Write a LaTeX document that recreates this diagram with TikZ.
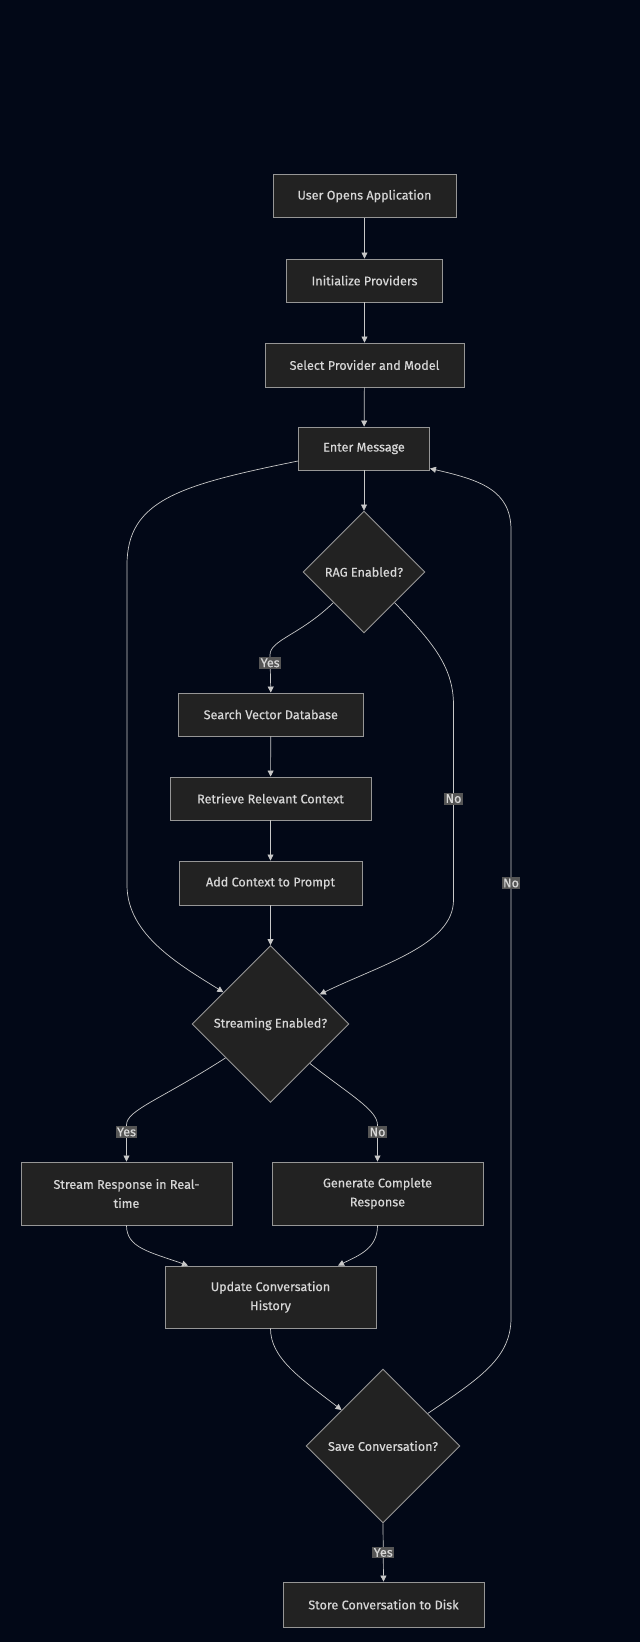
\documentclass[tikz,border=0pt]{standalone}
\usepackage{fontspec}
\setmainfont{Fira Sans}
\newfontfamily\chartfont{Fira Sans}[FakeBold=0.4]
\usepackage{tikz}
\usetikzlibrary{shapes.geometric,arrows.meta}

\definecolor{bgnavy}{RGB}{2,8,23}
\definecolor{boxfill}{RGB}{34,34,34}
\definecolor{boxline}{RGB}{150,150,150}
\definecolor{wirecol}{RGB}{200,200,200}
\definecolor{txtcol}{RGB}{215,215,215}
\definecolor{lblfill}{RGB}{85,85,85}

\tikzset{
  box/.style={draw=boxline, fill=boxfill, line width=0.9pt, text=txtcol, align=center,
    inner sep=0pt, font=\chartfont\fontsize{12.6}{19}\selectfont},
  decision/.style={diamond, aspect=1, draw=boxline, fill=boxfill, line width=0.9pt,
    text=txtcol, inner sep=0pt, font=\chartfont\fontsize{12.6}{15}\selectfont},
  flow/.style={->, draw=wirecol, line width=0.7pt},
  lbl/.style={fill=lblfill, text=txtcol, inner sep=1.5pt, font=\chartfont\fontsize{12.6}{14}\selectfont},
}

\begin{document}
\begin{tikzpicture}[x=1pt, y=-1pt, >={Triangle[length=6pt,width=6pt]}]
			\fill[bgnavy] (0,0) rectangle (640,1642);
			\useasboundingbox (0,0) rectangle (640,1642);
			
			% ========== main column ==========
			\node[box, minimum width=183, minimum height=43] (start) at (364.5,196) {User Opens Application};
			\node[box, minimum width=156, minimum height=43] (init) at (364.5,280.5) {Initialize Providers};
			\node[box, minimum width=199, minimum height=44] (select) at (364.5,365) {Select Provider and Model};
			\node[box, minimum width=131, minimum height=43] (enter) at (364,448.5) {Enter Message};
			\node[decision, minimum size=122] (rag) at (364,572) {RAG Enabled?};
			
			% ========== RAG branch ==========
			\node[box, minimum width=185, minimum height=43] (search) at (270.8,714.5) {Search Vector Database};
			\node[box, minimum width=201, minimum height=43] (retrieve) at (270.5,798.5) {Retrieve Relevant Context};
			\node[box, minimum width=183, minimum height=44] (addctx) at (270.5,883) {Add Context to Prompt};
			\node[decision, minimum size=157] (stream) at (270.5,1024) {Streaming Enabled?};
			
			% ========== response ==========
			\node[box, minimum width=211, minimum height=63] (realtime) at (126.5,1193.5) {Stream Response in Real-\\time};
			\node[box, minimum width=211, minimum height=63] (complete) at (377.5,1193.5) {Generate Complete\\Response};
			\node[box, minimum width=211, minimum height=62] (update) at (270.5,1297) {Update Conversation\\History};
			\node[decision, minimum size=154] (save) at (383,1446) {Save Conversation?};
			\node[box, minimum width=201, minimum height=45] (store) at (383.5,1604.5) {Store Conversation to Disk};
			
			% ========== connectors ==========
			\draw[flow] (start) -- (init);
			\draw[flow] (init) -- (select);
			\draw[flow] (select) -- (enter);
			\draw[flow] (enter) -- (rag);
			
			\draw[flow] ([yshift=-12.5pt]enter.west) .. controls (180,485) and (127,500) .. (127,565)
			  -- (127,885) .. controls (127,935) and (180,965) .. (stream.146);
			\draw[flow] (rag.225) .. controls (300,635) and (270,640) .. (270,655)
			  -- node[lbl, pos=0.21] {Yes} (search.north);
			\draw[flow] (rag.315) .. controls (430,640) and (453.5,665) .. (453.5,705)
			  -- node[lbl, pos=0.48] {No} (453.5,900) .. controls (453.5,945) and (380,965) .. (stream.31);
			
			\draw[flow] (search) -- (retrieve);
			\draw[flow] (retrieve) -- (addctx);
			\draw[flow] (addctx) -- (stream);
			
			\draw[flow] (stream.217) .. controls (160,1100) and (126.5,1110) .. (126.5,1125)
			  -- node[lbl, pos=0.19] {Yes} (realtime.north);
			\draw[flow] (stream.315) .. controls (350,1095) and (377.5,1110) .. (377.5,1125)
			  -- node[lbl, pos=0.19] {No} (complete.north);
			
			\draw[flow] (realtime.south) .. controls (126.5,1248) and (150,1252) .. ([xshift=-82.5pt]update.north);
			\draw[flow] (complete.south) .. controls (377.5,1248) and (360,1255) .. ([xshift=67.5pt]update.north);
			\draw[flow] (update.south) .. controls (270.5,1358) and (300,1378) .. (save.139);
			
			\draw[flow] (save.36) .. controls (480,1378) and (511,1358) .. (511,1318)
			  -- node[lbl, pos=0.552] {No} (511,530) .. controls (511,490) and (480,480) .. ([yshift=2pt]enter.south east);
			\draw[flow] (save.south) -- node[lbl] {Yes} (store.north);
		\end{tikzpicture}
\end{document}
